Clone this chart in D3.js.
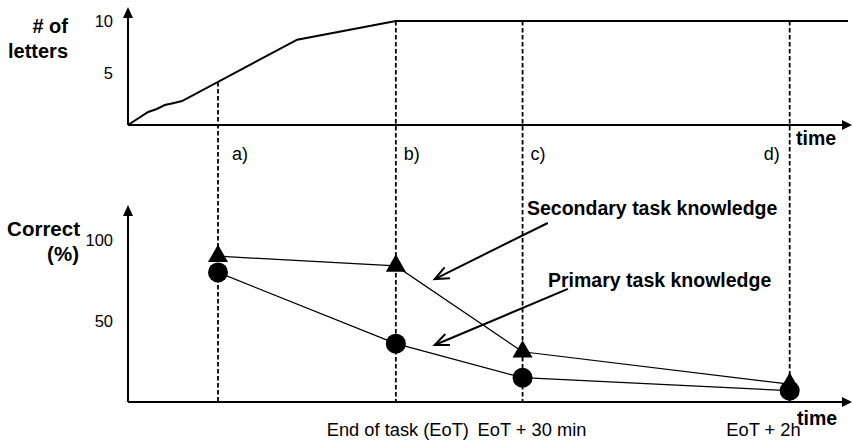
<!DOCTYPE html>
<html>
<head>
<meta charset="utf-8">
<script src="https://cdn.jsdelivr.net/npm/d3@7"></script>
<style>
  html, body { margin: 0; padding: 0; background: #fff; }
  svg { display: block; }
  text { font-family: "Liberation Sans", Arial, Helvetica, sans-serif; fill: #000; }
</style>
</head>
<body>
<svg id="chart" width="853" height="440"></svg>
<script>
// Time axis runs 0..100 (arbitrary units); four measurement moments.
const checkpoints = [12.5, 37.2, 54.8, 91.9];
const checkpointTags = ["a)", "b)", "c)", "d)"];
const checkpointNames = ["", "End of task (EoT)", "EoT + 30 min", "EoT + 2h"];

// Number of letters learned over time (top panel).
const letterTimes  = [0, 2.8, 4.0, 5.1, 6.25, 7.5, 23.5, 37.2, 100];
const letterCounts = [0, 1.25, 1.54, 1.92, 2.1, 2.3, 8.2, 10, 10];
const letterTicks  = [5, 10];

// Percentage correct at each checkpoint (bottom panel).
const secondaryCorrect = [90, 84, 31, 11];
const primaryCorrect   = [80, 36, 15, 7];
const correctTicks     = [50, 100];

const svg = d3.select("#chart");
svg.append("rect").attr("width", 853).attr("height", 440).attr("fill", "#fff");

const x = d3.scaleLinear().domain([0, 100]).range([128, 848]);
const yTop = d3.scaleLinear().domain([0, 10]).range([125, 21]);
const yBot = d3.scaleLinear().domain([0, 100]).range([402, 240]);

// filled arrowhead pointing along (dx, dy) with tip at (tx, ty)
function filledHead(tx, ty, dx, dy, len, half) {
  const n = Math.hypot(dx, dy), ux = dx / n, uy = dy / n;
  const bx = tx - ux * len, by = ty - uy * len;
  svg.append("path")
    .attr("d", `M${tx},${ty}L${bx - uy * half},${by + ux * half}L${bx + uy * half},${by - ux * half}Z`)
    .attr("fill", "#000");
}
// open (V-shaped) arrowhead
function openHead(tx, ty, dx, dy, len, half) {
  const n = Math.hypot(dx, dy), ux = dx / n, uy = dy / n;
  const bx = tx - ux * len, by = ty - uy * len;
  svg.append("path")
    .attr("d", `M${bx - uy * half},${by + ux * half}L${tx},${ty}L${bx + uy * half},${by - ux * half}`)
    .attr("fill", "none").attr("stroke", "#000").attr("stroke-width", 2);
}

const x0 = x(0), xEnd = 852;

// ---- dashed checkpoint guides (drawn first, marks sit on top)
const letterAt = d3.scaleLinear().domain(letterTimes).range(letterCounts);
svg.append("g").selectAll("line").data(checkpoints).join("line")
  .attr("x1", d => x(d)).attr("x2", d => x(d))
  .attr("y1", d => yTop(letterAt(d)))
  .attr("y2", yBot(0))
  .attr("stroke", "#000").attr("stroke-width", 1.8)
  .attr("stroke-dasharray", "4.5,2.5");

// ---- top panel axes
svg.append("line").attr("x1", x0).attr("y1", yTop(0)).attr("x2", x0).attr("y2", 16)
  .attr("stroke", "#000").attr("stroke-width", 2);
filledHead(x0, 7, 0, -1, 11, 5);
svg.append("line").attr("x1", x0).attr("y1", yTop(0)).attr("x2", xEnd - 9).attr("y2", yTop(0))
  .attr("stroke", "#000").attr("stroke-width", 2);
filledHead(xEnd, yTop(0), 1, 0, 10, 5);

svg.append("g").selectAll("text").data(letterTicks).join("text")
  .attr("x", 113).attr("y", d => yTop(d)).attr("dy", "0.35em")
  .attr("text-anchor", "end").attr("font-size", 16.5).text(d => d);

svg.append("text").attr("x", 68).attr("y", 33).attr("text-anchor", "end")
  .attr("font-size", 20).attr("font-weight", "bold").text("# of");
svg.append("text").attr("x", 68).attr("y", 58).attr("text-anchor", "end")
  .attr("font-size", 20).attr("font-weight", "bold").text("letters");
svg.append("text").attr("x", 796).attr("y", 145)
  .attr("font-size", 19.5).attr("font-weight", "bold").text("time");

// letters curve
svg.append("path")
  .datum(d3.zip(letterTimes, letterCounts))
  .attr("d", d3.line().x(d => x(d[0])).y(d => yTop(d[1])))
  .attr("fill", "none").attr("stroke", "#000").attr("stroke-width", 2);

// checkpoint tags a) b) c) d)
svg.append("g").selectAll("text").data(checkpoints).join("text")
  .attr("x", (d, i) => i === 3 ? x(d) - 10 : x(d) + (i === 0 ? 14 : 8))
  .attr("y", 160)
  .attr("text-anchor", (d, i) => i === 3 ? "end" : "start")
  .attr("font-size", 18).text((d, i) => checkpointTags[i]);

// ---- bottom panel axes
svg.append("line").attr("x1", x0).attr("y1", yBot(0)).attr("x2", x0).attr("y2", 214)
  .attr("stroke", "#000").attr("stroke-width", 2);
filledHead(x0, 205, 0, -1, 11, 5);
svg.append("line").attr("x1", x0).attr("y1", yBot(0)).attr("x2", xEnd - 9).attr("y2", yBot(0))
  .attr("stroke", "#000").attr("stroke-width", 2);
filledHead(xEnd, yBot(0), 1, 0, 10, 5);

svg.append("g").selectAll("text").data(correctTicks).join("text")
  .attr("x", 113).attr("y", d => yBot(d)).attr("dy", "0.35em")
  .attr("text-anchor", "end").attr("font-size", 16.5).text(d => d);

svg.append("text").attr("x", 80).attr("y", 236).attr("text-anchor", "end")
  .attr("font-size", 20.5).attr("font-weight", "bold").text("Correct");
svg.append("text").attr("x", 79).attr("y", 261).attr("text-anchor", "end")
  .attr("font-size", 20.5).attr("font-weight", "bold").text("(%)");
svg.append("text").attr("x", 797).attr("y", 425)
  .attr("font-size", 19.5).attr("font-weight", "bold").text("time");

// checkpoint names under the time axis
svg.append("g").selectAll("text").data(checkpoints).join("text")
  .attr("x", (d, i) => i === 1 ? x(d) + 2 : i === 2 ? x(d) - 45 : x(d) + 11)
  .attr("y", 436)
  .attr("text-anchor", (d, i) => i === 1 ? "middle" : i === 2 ? "start" : "end")
  .attr("font-size", 18.3).text((d, i) => checkpointNames[i]);

// ---- series lines
const lineBot = d3.line().x(d => x(d[0])).y(d => yBot(d[1]));
[secondaryCorrect, primaryCorrect].forEach(vals => {
  svg.append("path").datum(d3.zip(checkpoints, vals))
    .attr("d", lineBot).attr("fill", "none").attr("stroke", "#000").attr("stroke-width", 1.2);
});

// markers: circles for primary, triangles for secondary
svg.append("g").selectAll("circle").data(d3.zip(checkpoints, primaryCorrect)).join("circle")
  .attr("cx", d => x(d[0])).attr("cy", d => yBot(d[1])).attr("r", 10).attr("fill", "#000");
svg.append("g").selectAll("path").data(d3.zip(checkpoints, secondaryCorrect)).join("path")
  .attr("transform", d => `translate(${x(d[0])},${yBot(d[1])})`)
  .attr("d", d3.symbol(d3.symbolTriangle, 175)).attr("fill", "#000");

// ---- annotations
const notes = [
  { text: "Secondary task knowledge", tx: 527, ty: 215, from: [58.3, 110.5], to: [42.6, 75.9] },
  { text: "Primary task knowledge",   tx: 548, ty: 287, from: [61.1, 69.8],  to: [42.6, 35.2] }
];
notes.forEach(n => {
  const x1 = x(n.from[0]), y1 = yBot(n.from[1]), x2 = x(n.to[0]), y2 = yBot(n.to[1]);
  svg.append("line").attr("x1", x1).attr("y1", y1).attr("x2", x2).attr("y2", y2)
    .attr("stroke", "#000").attr("stroke-width", 2);
  openHead(x2, y2, x2 - x1, y2 - y1, 14, 6);
  svg.append("text").attr("x", n.tx).attr("y", n.ty)
    .attr("font-size", 19.5).attr("font-weight", "bold").text(n.text);
});
</script>
</body>
</html>
